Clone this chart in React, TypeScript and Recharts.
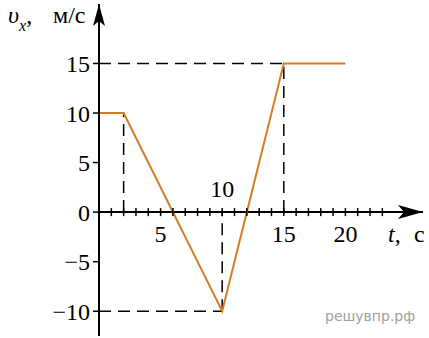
import React from 'react';
import {
  ComposedChart,
  Line,
  Scatter,
  XAxis,
  YAxis,
  ReferenceLine,
  ReferenceDot,
} from 'recharts';

// velocity graph v_x(t)
const motion = [
  { t: 0, v: 10 },
  { t: 2, v: 10 },
  { t: 10, v: -10 },
  { t: 15, v: 15 },
  { t: 20, v: 15 },
];

const yTicks = [-10, -5, 0, 5, 10, 15];
const xMinorTicks = Array.from({ length: 23 }, (_, i) => ({ t: i + 1, v: 0 }));
const xLabelsBelow = [
  { t: 5, v: 0, text: '5' },
  { t: 15, v: 0, text: '15' },
  { t: 20, v: 0, text: '20' },
];
const xLabelsAbove = [{ t: 10, v: 0, text: '10' }];

// dashed guide segments
const guides = [
  [{ x: 0, y: 15 }, { x: 15, y: 15 }],
  [{ x: 15, y: 0 }, { x: 15, y: 15 }],
  [{ x: 2, y: 0 }, { x: 2, y: 10 }],
  [{ x: 0, y: -10 }, { x: 10, y: -10 }],
  [{ x: 10, y: -10 }, { x: 10, y: 0 }],
];

const X_DOMAIN: [number, number] = [0, 26.3];
const Y_DOMAIN: [number, number] = [-12.5, 21];
const SERIF = '"Liberation Serif", "Times New Roman", serif';
const ORANGE = '#d47b25';

const TickMark = (props: any) => (
  <line x1={props.cx} x2={props.cx} y1={props.cy - 4} y2={props.cy + 4} stroke="#000" strokeWidth={1.5} />
);

const LabelBelow = (props: any) => (
  <text x={props.cx} y={props.cy + 30} textAnchor="middle" fontFamily={SERIF} fontSize={24} fill="#000">
    {props.payload.text}
  </text>
);

const LabelAbove = (props: any) => (
  <text x={props.cx} y={props.cy - 15} textAnchor="middle" fontFamily={SERIF} fontSize={24} fill="#000">
    {props.payload.text}
  </text>
);

const ArrowUp = (props: any) => {
  const { cx, cy } = props;
  return <path d={`M${cx},${cy} L${cx - 6},${cy + 22} L${cx},${cy + 17} L${cx + 6},${cy + 22} Z`} fill="#000" />;
};

const ArrowRight = (props: any) => {
  const { cx, cy } = props;
  return <path d={`M${cx},${cy} L${cx - 25},${cy - 7} L${cx - 19},${cy} L${cx - 25},${cy + 7} Z`} fill="#000" />;
};

export default function App() {
  return (
    <div style={{ position: 'relative', width: 429, height: 338, background: '#fff' }}>
      <style>{'body{margin:0}'}</style>
      <ComposedChart
        width={429}
        height={338}
        data={motion}
        margin={{ top: 4, right: 6, bottom: 2, left: 39 }}
      >
        <XAxis dataKey="t" type="number" domain={X_DOMAIN} hide />
        <YAxis
          type="number"
          domain={Y_DOMAIN}
          ticks={yTicks}
          width={60}
          tickSize={6}
          tickMargin={3}
          axisLine={{ stroke: '#000', strokeWidth: 2 }}
          tickLine={{ stroke: '#000', strokeWidth: 1.5 }}
          tick={{ fill: '#000', fontSize: 24, fontFamily: SERIF }}
          tickFormatter={(v: number) => String(v).replace('-', '\u2212')}
        />
        {guides.map((seg, i) => (
          <ReferenceLine
            key={i}
            segment={seg}
            stroke="#000"
            strokeWidth={1.5}
            strokeDasharray="12 7"
            ifOverflow="visible"
          />
        ))}
        <ReferenceLine y={0} stroke="#000" strokeWidth={2} />
        <Scatter data={xMinorTicks} dataKey="v" shape={TickMark} isAnimationActive={false} />
        <Scatter data={xLabelsBelow} dataKey="v" shape={LabelBelow} isAnimationActive={false} />
        <Scatter data={xLabelsAbove} dataKey="v" shape={LabelAbove} isAnimationActive={false} />
        <Line
          type="linear"
          dataKey="v"
          stroke={ORANGE}
          strokeWidth={2}
          dot={false}
          isAnimationActive={false}
        />
        <ReferenceDot x={0} y={21} r={0} shape={ArrowUp} ifOverflow="visible" />
        <ReferenceDot x={26.3} y={0} r={0} shape={ArrowRight} ifOverflow="visible" />
      </ComposedChart>
      <svg
        width={429}
        height={338}
        style={{ position: 'absolute', left: 0, top: 0, pointerEvents: 'none' }}
      >
        <text x={8} y={23} fontFamily={SERIF} fontSize={24} fill="#000">
          <tspan fontStyle="italic">υ</tspan>
          <tspan fontStyle="italic" fontSize={16} dy={8}>x</tspan>
          <tspan dy={-8}>,</tspan>
          <tspan x={53}>м/с</tspan>
        </text>
        <text x={388} y={242} fontFamily={SERIF} fontSize={24} fill="#000">
          <tspan fontStyle="italic">t</tspan>
          <tspan>,</tspan>
          <tspan x={414}>с</tspan>
        </text>
        <text x={325} y={321} fontFamily={'"DejaVu Sans", sans-serif'} fontSize={14} fill="#a0a0a0">
          решувпр.рф
        </text>
      </svg>
    </div>
  );
}
